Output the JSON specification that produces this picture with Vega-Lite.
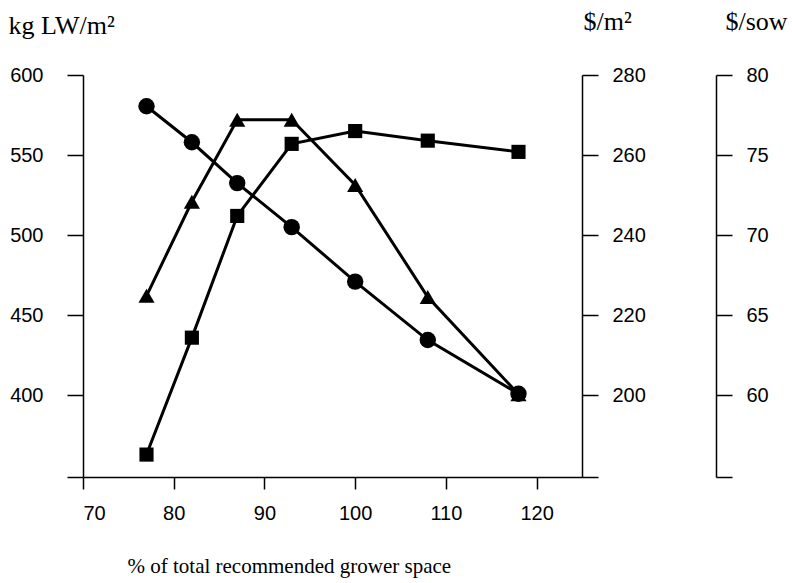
{
  "$schema": "https://vega.github.io/schema/vega-lite/v6.json",
  "autosize": "none",
  "width": 499,
  "height": 402,
  "padding": {"left": 83, "top": 75, "right": 210, "bottom": 106},
  "background": "white",
  "config": {
    "view": {"stroke": null},
    "axis": {
      "domainColor": "black",
      "domainWidth": 1.5,
      "tickColor": "black",
      "tickWidth": 1.5,
      "tickSize": 16,
      "labelFont": "Liberation Sans",
      "labelFontSize": 20,
      "labelColor": "black",
      "titleFont": "Liberation Serif",
      "titleFontSize": 21,
      "titleFontWeight": "normal",
      "titleColor": "black",
      "grid": false
    }
  },
  "data": {
    "values": [
      {"pct": 77, "kg": 580.5, "dm2": 224.8, "dsow": 56.3},
      {"pct": 82, "kg": 558, "dm2": 248.3, "dsow": 63.6},
      {"pct": 87, "kg": 532.5, "dm2": 268.8, "dsow": 71.2},
      {"pct": 93, "kg": 505, "dm2": 268.8, "dsow": 75.7},
      {"pct": 100, "kg": 471, "dm2": 252.5, "dsow": 76.5},
      {"pct": 108, "kg": 434.5, "dm2": 224.5, "dsow": 75.9},
      {"pct": 118, "kg": 401, "dm2": 200.2, "dsow": 75.2}
    ]
  },
  "encoding": {
    "x": {
      "field": "pct",
      "type": "quantitative",
      "scale": {"domain": [70, 125], "nice": false, "zero": false},
      "axis": {
        "values": [70, 80, 90, 100, 110, 120],
        "tickSize": 12,
        "labelPadding": 14,
        "title": "% of total recommended grower space",
        "titleAlign": "left",
        "titleAnchor": null,
        "titleX": 44,
        "titleY": 95,
        "titleFontSize": 21,
        "titleBaseline": "alphabetic"
      }
    }
  },
  "layer": [
    {
      "mark": {"type": "line", "color": "black", "strokeWidth": 3, "point": {"shape": "circle", "size": 270, "filled": true, "color": "black", "opacity": 1}},
      "encoding": {
        "y": {
          "field": "kg",
          "type": "quantitative",
          "scale": {"domain": [349, 600], "nice": false, "zero": false},
          "axis": {
            "orient": "left",
            "values": [349, 400, 450, 500, 550, 600],
            "labelExpr": "datum.value < 350 ? '' : datum.label",
            "labelPadding": 24,
            "title": "kg LW/m²",
            "titleAngle": 0,
            "titleAlign": "left",
            "titleAnchor": null,
            "titleX": -75,
            "titleY": -42,
            "titleFontSize": 26,
            "titleBaseline": "alphabetic"
          }
        }
      }
    },
    {
      "mark": {"type": "line", "color": "black", "strokeWidth": 3, "point": {"shape": "triangle-up", "size": 260, "filled": true, "color": "black", "opacity": 1}},
      "encoding": {
        "y": {
          "field": "dm2",
          "type": "quantitative",
          "scale": {"domain": [179.5, 280], "nice": false, "zero": false},
          "axis": {
            "orient": "right",
            "values": [179.5, 200, 220, 240, 260, 280],
            "labelExpr": "datum.value < 180 ? '' : datum.label",
            "labelPadding": 14,
            "title": "$/m²",
            "titleAngle": 0,
            "titleAlign": "left",
            "titleAnchor": null,
            "titleX": 1,
            "titleY": -46,
            "titleFontSize": 26,
            "titleBaseline": "alphabetic"
          }
        }
      }
    },
    {
      "mark": {"type": "line", "color": "black", "strokeWidth": 3, "point": {"shape": "square", "size": 200, "filled": true, "color": "black", "opacity": 1}},
      "encoding": {
        "y": {
          "field": "dsow",
          "type": "quantitative",
          "scale": {"domain": [54.9, 80], "nice": false, "zero": false},
          "axis": {
            "orient": "right",
            "offset": 134,
            "values": [54.9, 60, 65, 70, 75, 80],
            "labelExpr": "datum.value < 55 ? '' : datum.label",
            "labelPadding": 14,
            "title": "$/sow",
            "titleAngle": 0,
            "titleAlign": "left",
            "titleAnchor": null,
            "titleX": 9,
            "titleY": -46,
            "titleFontSize": 26,
            "titleBaseline": "alphabetic"
          }
        }
      }
    }
  ],
  "resolve": {"scale": {"y": "independent"}}
}
